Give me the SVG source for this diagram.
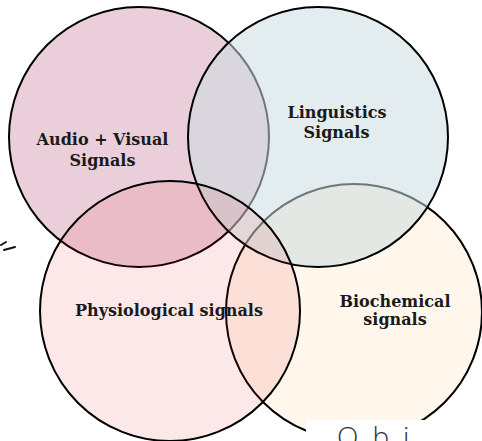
<svg xmlns="http://www.w3.org/2000/svg" width="482" height="441" viewBox="0 0 482 441">
  <style>
    .ring { stroke: #000; stroke-width: 2; }
    .label { font-family: "DejaVu Serif", "Liberation Serif", serif; font-weight: bold; font-size: 16px; fill: #1a1a1a; text-anchor: middle; }
  </style>
  <rect width="482" height="441" fill="#fff"/>

  <!-- Audio + Visual (drawn first, opaque) -->
  <g id="audio-visual">
    <circle class="ring" cx="139" cy="137" r="130" fill="#eacfdb"/>
    <text class="label" x="102.5" y="145">Audio + Visual</text>
    <text class="label" x="102.5" y="166">Signals</text>
  </g>

  <!-- Biochemical (light tint) -->
  <g id="biochemical">
    <circle class="ring" cx="354" cy="312" r="128" fill="rgb(255,170,40)" fill-opacity="0.09"/>
    <text class="label" x="395" y="306.5">Biochemical</text>
    <text class="label" x="395" y="325">signals</text>
  </g>

  <!-- Linguistics (half transparent, dims the rings beneath) -->
  <g id="linguistics">
    <circle class="ring" cx="318" cy="137" r="130" fill="#ccdce0" fill-opacity="0.54"/>
    <text class="label" x="337" y="118">Linguistics</text>
    <text class="label" x="336.5" y="138">Signals</text>
  </g>

  <!-- Physiological (light tint) -->
  <g id="physiological">
    <circle class="ring" cx="170" cy="311" r="130" fill="rgb(225,25,40)" fill-opacity="0.1"/>
    <text class="label" x="169" y="316">Physiological signals</text>
  </g>

  <!-- stray pen mark on the left margin -->
  <g id="pen-mark" fill="none" stroke="#111" stroke-width="2" stroke-linecap="round">
    <path d="M1 245 L6 242"/>
    <path d="M4 250 L15 247"/>
  </g>

  <!-- caption strip at the bottom right, cut by the frame -->
  <g id="caption">
    <rect x="306" y="420" width="176" height="21" fill="#fff"/>
    <text x="337" y="447" font-family="Open Sans, sans-serif" font-weight="300" font-size="28" fill="#333" letter-spacing="14">Obi</text>
  </g>
</svg>
